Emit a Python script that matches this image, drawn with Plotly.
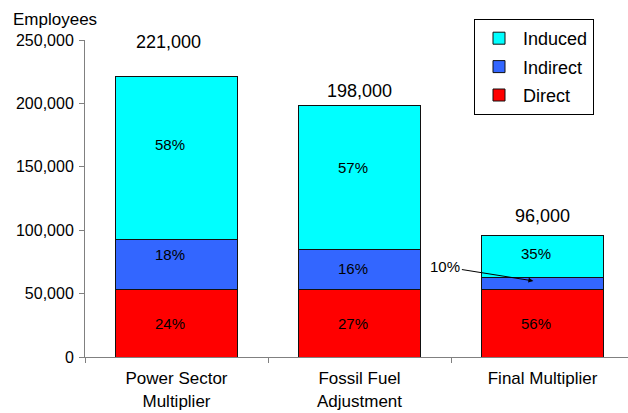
import plotly.graph_objects as go

# Employment by multiplier stage
categories = ["Power Sector<br>Multiplier", "Fossil Fuel<br>Adjustment", "Final Multiplier"]
direct = [53000, 53000, 53500]
indirect = [40000, 32000, 9500]
induced = [128000, 113000, 33000]

direct_pct = ["24%", "27%", "56%"]
indirect_pct = ["18%", "16%", ""]
induced_pct = ["58%", "57%", "35%"]

totals = [d + i + n for d, i, n in zip(direct, indirect, induced)]

FONT = "Arial, Liberation Sans, sans-serif"
edge = dict(color="#111111", width=1)

W, H = 628, 413
ML, MR, MT, MB = 85, 0, 40, 56
PW, PH = W - ML - MR, H - MT - MB

series = [
    ("Direct", direct, direct_pct, "#ff0000"),
    ("Indirect", indirect, indirect_pct, "#3366ff"),
    ("Induced", induced, induced_pct, "#00ffff"),
]

fig = go.Figure()
for rank, (name, vals, _, color) in enumerate(series):
    fig.add_trace(go.Bar(
        name=name, x=categories, y=vals,
        legendgroup=name, legendrank=3 - rank,
        marker=dict(color=color, line=edge),
        hoverinfo="skip",
    ))

annotations = []

# Share labels sit at the middle of each stacked segment
label_lift = {"Direct": [0, 0, 0], "Indirect": [10, 1, 0], "Induced": [13, 10, 3]}
base = [0, 0, 0]
for name, vals, pcts, _ in series:
    for i, (cat, v, p) in enumerate(zip(categories, vals, pcts)):
        if p:
            annotations.append(dict(
                x=cat, y=base[i] + v / 2, text=p, showarrow=False,
                xshift=-7, yshift=label_lift[name][i],
                font=dict(family=FONT, size=15, color="black"),
            ))
        base[i] += v

# Totals above each column
total_offset = [(-8, 23), (0, 3), (0, 7)]
for cat, tot, (dx, dy) in zip(categories, totals, total_offset):
    annotations.append(dict(
        x=cat, y=tot, text=f"{tot:,}", showarrow=False,
        yanchor="bottom", xshift=dx, yshift=dy,
        font=dict(family=FONT, size=18, color="black"),
    ))

# Small indirect share on the last bar gets a pointer
annotations.append(dict(
    x=1.95, y=60000, xref="x", yref="y", text="10%",
    showarrow=True, arrowhead=2, arrowsize=1, arrowwidth=1, arrowcolor="black",
    ax=-88, ay=-14, font=dict(family=FONT, size=15, color="black"),
))

annotations.append(dict(
    x=(11 - ML) / PW, y=(H - MB - 20) / PH, xref="paper", yref="paper",
    text="Employees", showarrow=False, xanchor="left", yanchor="middle",
    font=dict(family=FONT, size=17, color="black"),
))

fig.update_layout(
    width=W, height=H,
    margin=dict(l=ML, r=MR, t=MT, b=MB, autoexpand=False),
    paper_bgcolor="white", plot_bgcolor="white",
    barmode="stack", bargap=0.333,
    font=dict(family=FONT, color="black"),
    showlegend=True,
    legend=dict(
        xref="paper", yref="paper",
        x=(474 - ML) / PW, y=(H - MB - 19) / PH, xanchor="left", yanchor="top",
        traceorder="grouped",
        bordercolor="black", borderwidth=1, bgcolor="white",
        font=dict(family=FONT, size=18, color="black"),
        itemwidth=38, tracegroupgap=2,
    ),
    annotations=annotations,
    xaxis=dict(
        range=[-0.5, 2.467], showline=True, linecolor="#808080", linewidth=1,
        ticks="outside", tickson="boundaries", ticklen=5, tickcolor="#808080",
        tickfont=dict(family=FONT, size=17, color="black"),
        ticklabelstandoff=6,
        showgrid=False, zeroline=False, fixedrange=True,
    ),
    yaxis=dict(
        range=[0, 250000], dtick=50000, tickformat=",",
        showline=True, linecolor="#808080", linewidth=1,
        ticks="outside", ticklen=5, tickcolor="#808080",
        tickfont=dict(family=FONT, size=16, color="black"),
        ticklabelstandoff=2,
        showgrid=False, zeroline=False, fixedrange=True,
    ),
)

fig.write_html("out.html")
